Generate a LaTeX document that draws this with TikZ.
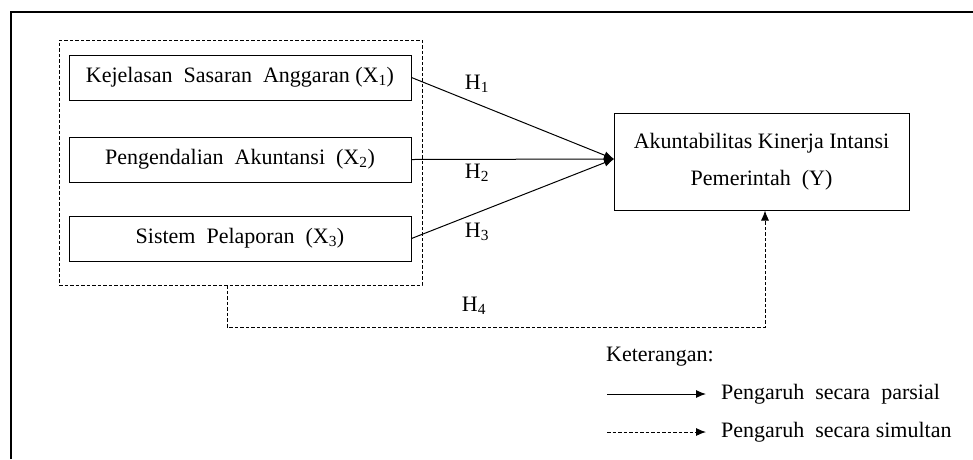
\documentclass[tikz,border=0pt]{standalone}
\usepackage{fontspec}
\setmainfont{Liberation Serif}
\usetikzlibrary{arrows.meta}
\begin{document}
\begin{tikzpicture}[x=1pt,y=-1pt,
  varbox/.style={draw,line width=1pt,minimum width=342pt,minimum height=45pt,inner sep=0pt,font=\fontsize{22}{26}\selectfont},
  lbl/.style={font=\fontsize{22}{26}\selectfont,inner sep=0pt},
  dsh/.style={dash pattern=on 3.5pt off 2pt,line width=0.9pt},
  tipstyle/.style={-{Latex[length=10pt,width=8pt]}},
  arr/.style={tipstyle,line width=1pt}]
\useasboundingbox (0,0) rectangle (973,459);
\draw[line width=1.1pt] (11,459) -- (11,12) -- (973,12);
\node[draw,dsh,minimum width=363pt,minimum height=245pt,inner sep=0pt] (grp) at (240.5,162.5) {};
\node[varbox] (x1) at (240,77.5) {Kejelasan \ Sasaran \ Anggaran (X\textsubscript{1})};
\node[varbox] (x2) at (240,159.5) {Pengendalian \ Akuntansi \ (X\textsubscript{2})};
\node[varbox] (x3) at (240,238.5) {Sistem \ Pelaporan \ (X\textsubscript{3})};
\node[draw,line width=1pt,minimum width=295pt,minimum height=97pt,inner sep=0pt,align=center,font=\fontsize{22}{37}\selectfont] (y) at (761.5,161.5) {Akuntabilitas Kinerja Intansi\\Pemerintah \ (Y)};
\coordinate (tip) at (614,159);
\draw[arr] (x1.east) -- (tip);
\draw[arr] (x2.east) -- (tip);
\draw[arr] (x3.east) -- (tip);
\node[lbl] (h1) at (477,84) {H\textsubscript{1}};
\node[lbl] (h2) at (477,173) {H\textsubscript{2}};
\node[lbl] (h3) at (477,232) {H\textsubscript{3}};
\node[lbl] (h4) at (474,306) {H\textsubscript{4}};
\coordinate (ya) at (765,210);
\draw[dsh,tipstyle] (grp.south -| 227,0) -- (227,327) -- (765,327) -- (y.south -| ya);
\node[lbl,anchor=west] (ket) at (606,357) {Keterangan:};
\coordinate (l1a) at (607,394);
\coordinate (l1b) at (706,394);
\coordinate (l2a) at (607,432);
\coordinate (l2b) at (706,432);
\draw[arr] (l1a) -- (l1b);
\draw[dsh,tipstyle] (l2a) -- (l2b);
\node[lbl,anchor=west] (t1) at (721,394) {Pengaruh \ secara \ parsial};
\node[lbl,anchor=west] (t2) at (721,432) {Pengaruh \ secara simultan};
\end{tikzpicture}
\end{document}
